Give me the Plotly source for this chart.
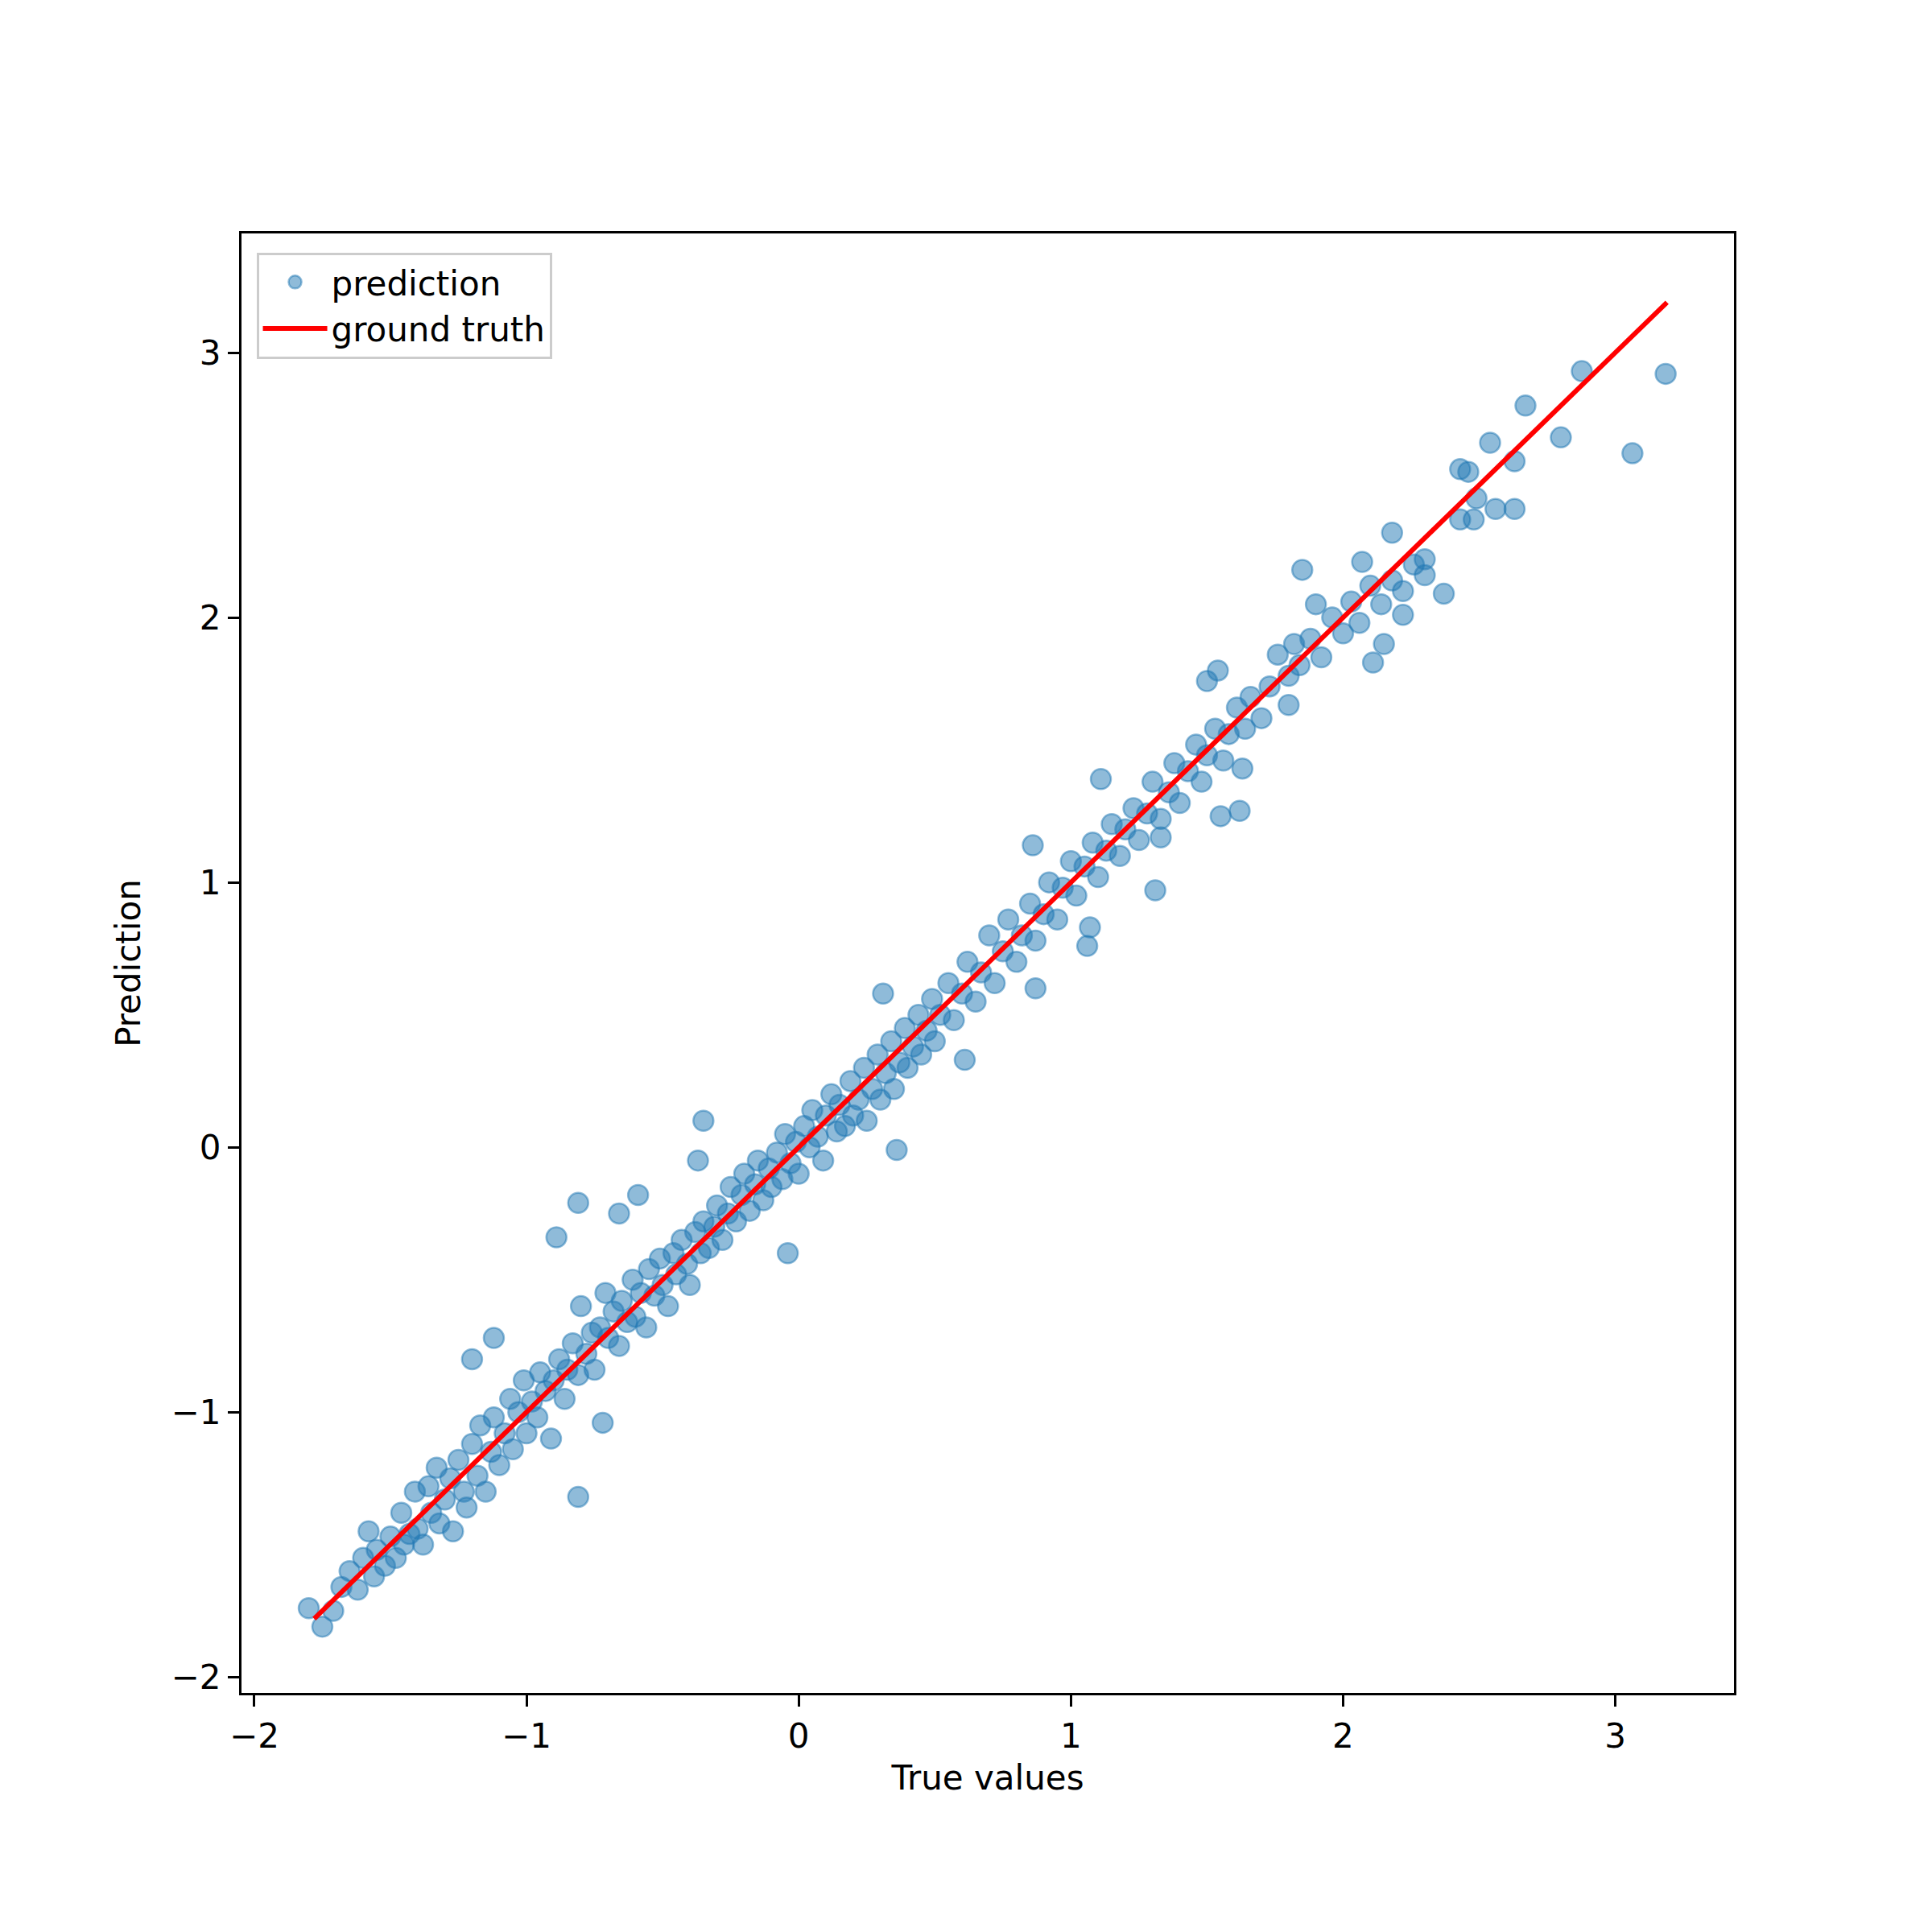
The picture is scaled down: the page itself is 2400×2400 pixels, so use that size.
import plotly.graph_objects as go

# outlying / spread points
true_outer = [3.185, 2.877, 3.063, 2.80, 2.67, 2.54, 2.43, 2.46, 2.63, 2.63, 2.56, 2.48, 2.43, 2.49,
              2.37, 2.30, 2.18, 2.07, 1.85, 2.11, 2.15, 2.22, 1.90, 1.82, 1.80, 1.54, 1.50, 1.63,
              1.62, 1.55, 1.31, 1.33, 1.11, 1.06, 1.07, 0.86, 0.87, 0.61, 0.36, 0.31, -0.35, -0.37,
              -0.59, -0.66, -0.81, -0.04, -0.81, -0.72, -1.20, -1.12, -1.75, -1.80, -1.71, -0.89]
pred_outer = [2.92, 2.93, 2.62, 2.68, 2.80, 2.66, 2.56, 2.55, 2.59, 2.41, 2.41, 2.37, 2.37, 2.45,
              2.09, 2.22, 2.32, 2.21, 2.18, 1.83, 1.90, 2.01, 2.05, 1.90, 1.67, 1.80, 1.76, 1.43,
              1.27, 1.25, 0.97, 1.17, 1.39, 0.76, 0.83, 1.14, 0.60, 0.33, -0.01, 0.58, 0.10, -0.05,
              -0.18, -0.25, -0.21, -0.40, -1.32, -1.04, -0.80, -0.72, -1.81, -1.74, -1.75, -0.34]

# bulk of the points along the diagonal
true_bulk = [-1.68, -1.65, -1.62, -1.60, -1.58, -1.56, -1.55, -1.52, -1.50, -1.48, -1.46, -1.45, -1.43,
             -1.41, -1.40, -1.38, -1.36, -1.35, -1.33, -1.32, -1.30, -1.28, -1.27, -1.25, -1.23, -1.22,
             -1.20, -1.18, -1.17, -1.15, -1.13, -1.12, -1.10, -1.08, -1.06, -1.05, -1.03, -1.01, -1.00,
             -0.98, -0.96, -0.95, -0.93, -0.91, -0.90, -0.88, -0.86, -0.85, -0.83, -0.81, -0.80, -0.78,
             -0.76, -0.75, -0.73, -0.71, -0.70, -0.68, -0.66, -0.65, -0.63, -0.61, -0.60, -0.58, -0.56,
             -0.55, -0.53, -0.51, -0.50, -0.48, -0.46, -0.45, -0.43, -0.41, -0.40, -0.38, -0.36, -0.35,
             -0.33, -0.31, -0.30, -0.28, -0.26, -0.25, -0.23, -0.21, -0.20, -0.18, -0.16, -0.15, -0.13,
             -0.11, -0.10, -0.08, -0.06, -0.05, -0.03, -0.01, 0.00, 0.02, 0.04, 0.05, 0.07, 0.09, 0.10,
             0.12, 0.14, 0.15, 0.17, 0.19, 0.20, 0.22, 0.24, 0.25, 0.27, 0.29, 0.30, 0.32, 0.34, 0.35,
             0.37, 0.39, 0.40, 0.42, 0.44, 0.45, 0.47, 0.49, 0.50, 0.52, 0.55, 0.57, 0.60, 0.62, 0.65,
             0.67, 0.70, 0.72, 0.75, 0.77, 0.80, 0.82, 0.85, 0.87, 0.90, 0.92, 0.95, 0.97, 1.00, 1.02,
             1.05, 1.08, 1.10, 1.13, 1.15, 1.18, 1.20, 1.23, 1.25, 1.28, 1.30, 1.33, 1.36, 1.38, 1.40,
             1.43, 1.46, 1.48, 1.50, 1.53, 1.56, 1.58, 1.61, 1.64, 1.66, 1.70, 1.73, 1.76, 1.80, 1.84,
             1.88, 1.92, 1.96, 2.00, 2.03, 2.06, 2.10, 2.14, 2.18, 2.22, 2.26, 2.30]
pred_bulk = [-1.66, -1.60, -1.67, -1.55, -1.45, -1.62, -1.52, -1.58, -1.47, -1.55, -1.38, -1.50, -1.46,
             -1.30, -1.44, -1.50, -1.28, -1.38, -1.21, -1.42, -1.33, -1.25, -1.45, -1.18, -1.30, -1.36,
             -1.12, -1.24, -1.05, -1.30, -1.15, -1.02, -1.20, -1.08, -0.95, -1.14, -1.00, -0.88, -1.08,
             -0.96, -1.02, -0.85, -0.92, -1.10, -0.88, -0.80, -0.95, -0.84, -0.74, -0.86, -0.60, -0.78,
             -0.70, -0.84, -0.68, -0.55, -0.72, -0.62, -0.75, -0.58, -0.66, -0.50, -0.64, -0.55, -0.68,
             -0.46, -0.56, -0.42, -0.52, -0.60, -0.40, -0.48, -0.35, -0.44, -0.52, -0.32, -0.40, -0.28,
             -0.38, -0.30, -0.22, -0.35, -0.25, -0.15, -0.28, -0.18, -0.10, -0.24, -0.14, -0.05, -0.20,
             -0.08, -0.15, -0.02, -0.12, 0.05, -0.06, 0.02, -0.10, 0.08, 0.00, 0.14, 0.04, -0.05, 0.12,
             0.20, 0.06, 0.16, 0.08, 0.25, 0.12, 0.18, 0.30, 0.10, 0.22, 0.35, 0.18, 0.28, 0.40, 0.22,
             0.32, 0.45, 0.30, 0.38, 0.50, 0.35, 0.44, 0.56, 0.40, 0.50, 0.62, 0.48, 0.58, 0.70, 0.55,
             0.66, 0.80, 0.62, 0.74, 0.86, 0.70, 0.80, 0.92, 0.78, 0.88, 1.00, 0.86, 0.98, 1.08, 0.95,
             1.06, 1.15, 1.02, 1.12, 1.22, 1.10, 1.20, 1.28, 1.16, 1.26, 1.38, 1.24, 1.34, 1.45, 1.30,
             1.42, 1.52, 1.38, 1.48, 1.58, 1.46, 1.56, 1.66, 1.58, 1.70, 1.62, 1.74, 1.86, 1.78, 1.82,
             1.92, 1.85, 2.00, 1.94, 2.06, 1.98, 2.12, 2.05, 2.14, 2.10, 2.20, 2.16]

line_x = [-1.78, 3.19]
line_y = [-1.78, 3.19]

font = dict(family="DejaVu Sans", size=42, color="black")

fig = go.Figure()
fig.add_trace(go.Scatter(x=true_bulk + true_outer, y=pred_bulk + pred_outer, mode="markers",
                         name="prediction",
                         marker=dict(size=25, color="rgba(31,119,180,0.5)",
                                     line=dict(width=2.5, color="rgba(31,119,180,0.5)"))))
fig.add_trace(go.Scatter(x=line_x, y=line_y, mode="lines", name="ground truth",
                         line=dict(color="red", width=6)))

axis = dict(showgrid=False, zeroline=False, showline=True, mirror=True, linecolor="black",
            linewidth=3.3, ticks="outside", ticklen=14, tickwidth=3.3, tickcolor="black",
            tickfont=font, dtick=1)
fig.update_xaxes(axis, range=[-2.047, 3.436], title=dict(text="True values", font=font, standoff=15))
fig.update_yaxes(axis, range=[-2.06, 3.45], title=dict(text="Prediction", font=font, standoff=25))

fig.update_layout(width=2400, height=2400, plot_bgcolor="white", paper_bgcolor="white",
                  margin=dict(l=292, r=254, t=282, b=305), font=font,
                  legend=dict(x=0.01, y=0.987, xanchor="left", yanchor="top", itemwidth=80,
                              bgcolor="rgba(255,255,255,0.8)", bordercolor="#cccccc",
                              borderwidth=3, font=font, tracegroupgap=10))
fig.write_html("out.html")
